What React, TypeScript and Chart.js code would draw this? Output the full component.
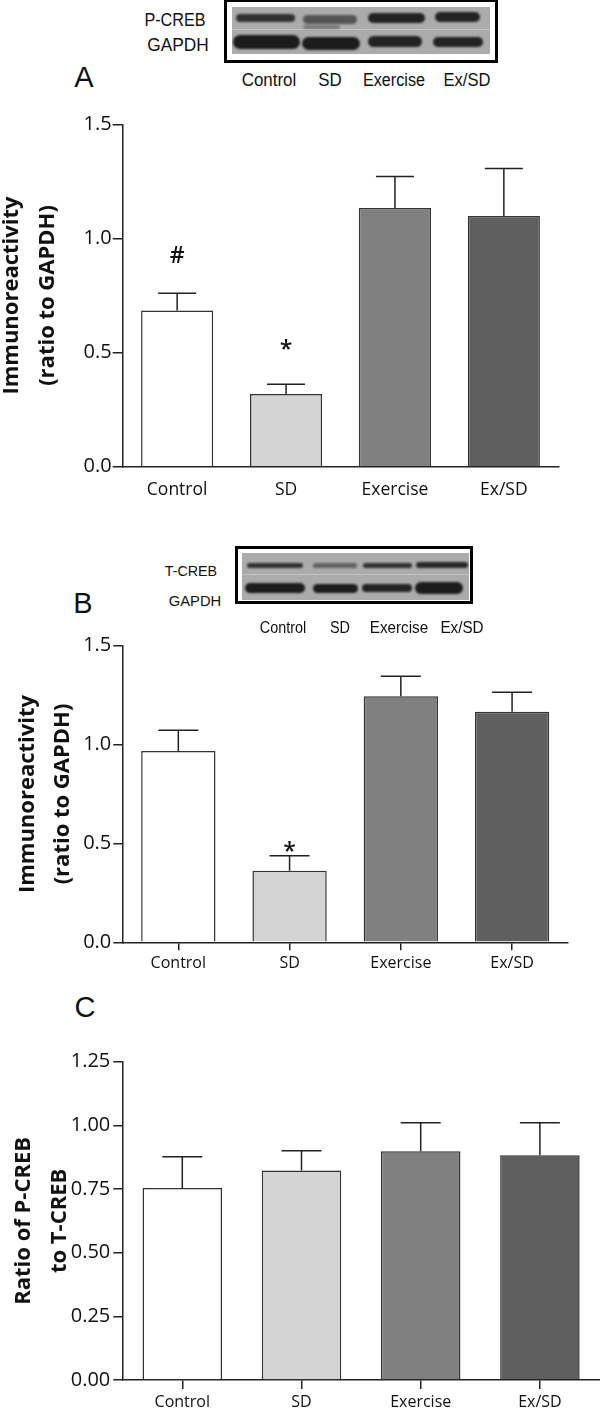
import React, { useEffect, useRef } from 'react';
import { Chart, registerables } from 'chart.js';

Chart.register(...registerables);

// ---------------- data ----------------
const categories = ['Control', 'SD', 'Exercise', 'Ex/SD'];
const barColors = ['#ffffff', '#d4d4d4', '#808080', '#5f5f5f'];

// Panel A: P-CREB / GAPDH
const pcrebMeans = [0.684, 0.319, 1.133, 1.098];
const pcrebSem = [0.076, 0.042, 0.138, 0.208];
const pcrebMarks = ['#', '*', '', ''];
const pcrebMarkAt = [0.929, 0.534, 0, 0];
const pcrebAxis = { max: 1.5, step: 0.5, decimals: 1 };

// Panel B: T-CREB / GAPDH
const tcrebMeans = [0.967, 0.362, 1.244, 1.166];
const tcrebSem = [0.106, 0.076, 0.101, 0.098];
const tcrebMarks = ['', '*', '', ''];
const tcrebMarkAt = [0, 0.482, 0, 0];
const tcrebAxis = { max: 1.5, step: 0.5, decimals: 1 };

// Panel C: P-CREB / T-CREB
const ratioMeans = [0.754, 0.823, 0.898, 0.883];
const ratioSem = [0.123, 0.077, 0.112, 0.127];
const ratioMarks = ['', '', '', ''];
const ratioMarkAt = [0, 0, 0, 0];
const ratioAxis = { max: 1.25, step: 0.25, decimals: 2 };

const titleA = ['Immunoreactivity', '(ratio to GAPDH)'];
const titleC = ['Ratio of P-CREB', 'to T-CREB'];

// ---------------- chart panel ----------------
const INK = '#222222';

function makeErrorPlugin(sem: number[], marks: string[], markAt: number[], capWidth: number) {
  return {
    id: 'errorBarsInline',
    afterDatasetsDraw(chart: any) {
      const meta = chart.getDatasetMeta(0);
      const y = chart.scales.y;
      const ctx = chart.ctx;
      const data = chart.data.datasets[0].data as number[];
      ctx.save();
      ctx.strokeStyle = INK;
      ctx.lineWidth = 1.5;
      meta.data.forEach((bar: any, i: number) => {
        const v = data[i];
        const base = y.getPixelForValue(v);
        const top = y.getPixelForValue(v + sem[i]);
        const x = bar.x;
        ctx.beginPath();
        ctx.moveTo(x, base);
        ctx.lineTo(x, top);
        ctx.moveTo(x - capWidth / 2, top);
        ctx.lineTo(x + capWidth / 2, top);
        ctx.stroke();
        const m = marks[i];
        if (m) {
          ctx.font = '600 23px "Open Sans"';
          ctx.fillStyle = '#111';
          ctx.textAlign = 'center';
          ctx.textBaseline = 'alphabetic';
          const mt = ctx.measureText(m);
          const cy = y.getPixelForValue(markAt[i]);
          ctx.fillText(m, x, cy + (mt.actualBoundingBoxAscent - mt.actualBoundingBoxDescent) / 2);
        }
      });
      ctx.restore();
    },
  };
}

type PanelProps = {
  top: number;
  height: number;
  means: number[];
  sem: number[];
  marks: string[];
  markAt: number[];
  axis: { max: number; step: number; decimals: number };
  title: string[];
  titlePad: number;
  axisLeft: number;
  chartTop: number;
  chartBottom: number;
  chartRight: number;
  barFrac: number;
  capWidth: number;
  xTickLen: number;
  xLabelPad: number;
  xFont: number;
  yTickLen: number;
  yLabelPad: number;
};

function BarPanel(p: PanelProps) {
  const ref = useRef<HTMLCanvasElement | null>(null);
  useEffect(() => {
    if (!ref.current) return;
    const chart = new Chart(ref.current, {
      type: 'bar',
      data: {
        labels: categories,
        datasets: [
          {
            data: p.means,
            backgroundColor: barColors,
            borderColor: '#333333',
            borderWidth: 1.5,
            categoryPercentage: 1,
            barPercentage: p.barFrac,
          },
        ],
      },
      options: {
        animation: false,
        responsive: false,
        maintainAspectRatio: false,
        events: [],
        layout: {
          padding: {
            left: 0,
            top: p.chartTop - p.top,
            right: 600 - p.chartRight,
            bottom: 0,
          },
        },
        plugins: { legend: { display: false }, tooltip: { enabled: false } },
        scales: {
          x: {
            offset: true,
            afterFit: (s: any) => {
              s.height = p.top + p.height - p.chartBottom;
            },
            grid: {
              display: true,
              drawOnChartArea: false,
              drawTicks: p.xTickLen > 0,
              tickLength: p.xTickLen,
              offset: false,
              color: INK,
              lineWidth: 1.5,
            },
            border: { display: true, color: INK, width: 1.5 },
            ticks: {
              color: '#111',
              padding: p.xLabelPad,
              font: { family: 'Open Sans', size: p.xFont },
              maxRotation: 0,
              autoSkip: false,
            },
          },
          y: {
            min: 0,
            max: p.axis.max,
            afterFit: (s: any) => {
              s.width = p.axisLeft;
            },
            grid: {
              display: true,
              drawOnChartArea: false,
              drawTicks: true,
              tickLength: p.yTickLen,
              color: INK,
              lineWidth: 1.5,
            },
            border: { display: true, color: INK, width: 1.5 },
            ticks: {
              stepSize: p.axis.step,
              color: '#111',
              padding: p.yLabelPad,
              font: { family: 'Open Sans', size: 20 },
              callback: (v: any) => Number(v).toFixed(p.axis.decimals),
            },
            title: {
              display: true,
              text: p.title,
              color: '#111',
              font: { family: 'Open Sans', weight: 'bold', size: 22, lineHeight: 1.61 },
              padding: { top: p.titlePad, bottom: 0 },
            },
          },
        },
      },
      plugins: [makeErrorPlugin(p.sem, p.marks, p.markAt, p.capWidth)],
    } as any);
    return () => chart.destroy();
  }, []);
  return (
    <canvas
      ref={ref}
      width={600}
      height={p.height}
      style={{ position: 'absolute', left: 0, top: p.top, width: 600, height: p.height }}
    />
  );
}

// ---------------- blot drawings ----------------
type Band = { x0: number; x1: number; cy: number; h: number; o: number };

function Blot(props: {
  box: [number, number, number, number];
  inner: [number, number, number, number];
  sepY: number;
  bands: Band[];
}) {
  const [bl, bt, br, bb] = props.box;
  const [il, it, ir, ib] = props.inner;
  return (
    <>
      <div
        style={{
          position: 'absolute',
          left: bl,
          top: bt,
          width: br - bl,
          height: bb - bt,
          border: '3.5px solid #000',
          boxSizing: 'border-box',
          background: '#fff',
        }}
      />
      <div
        style={{
          position: 'absolute',
          left: il,
          top: it,
          width: ir - il,
          height: ib - it,
          background: '#ababab',
          overflow: 'hidden',
        }}
      >
        <div
          style={{
            position: 'absolute',
            left: 0,
            top: props.sepY - it,
            width: ir - il,
            height: 1,
            background: '#c4c4c4',
          }}
        />
        {props.bands.map((b, i) => (
          <div
            key={i}
            style={{
              position: 'absolute',
              left: b.x0 - il,
              top: b.cy - b.h / 2 - it,
              width: b.x1 - b.x0,
              height: b.h,
              background: '#1c1c1c',
              opacity: b.o,
              borderRadius: b.h / 2,
              filter: 'blur(1.2px)',
            }}
          />
        ))}
      </div>
    </>
  );
}

function Txt(props: {
  x: number;
  y: number;
  size: number;
  sx?: number;
  children: React.ReactNode;
}) {
  return (
    <div
      style={{
        position: 'absolute',
        left: props.x,
        top: props.y,
        transform: `translate(-50%, -50%) scaleX(${props.sx ?? 1})`,
        fontFamily: '"Liberation Sans", Arial, sans-serif',
        fontSize: props.size,
        lineHeight: 1,
        whiteSpace: 'nowrap',
        color: '#111',
      }}
    >
      {props.children}
    </div>
  );
}

const bandsA: Band[] = [
  { x0: 236, x1: 295, cy: 18, h: 8, o: 0.85 },
  { x0: 303, x1: 357, cy: 19, h: 9, o: 0.6 },
  { x0: 303, x1: 340, cy: 27, h: 4, o: 0.35 },
  { x0: 368, x1: 425, cy: 18, h: 10, o: 0.95 },
  { x0: 435, x1: 480, cy: 17, h: 10, o: 0.95 },
  { x0: 233, x1: 300, cy: 42, h: 14, o: 1 },
  { x0: 302, x1: 360, cy: 43, h: 13, o: 1 },
  { x0: 368, x1: 422, cy: 41.5, h: 11, o: 0.95 },
  { x0: 433, x1: 483, cy: 42, h: 10, o: 0.95 },
];

const bandsB: Band[] = [
  { x0: 247, x1: 303, cy: 565, h: 5, o: 0.85 },
  { x0: 313, x1: 357, cy: 565, h: 5, o: 0.5 },
  { x0: 363, x1: 412, cy: 565, h: 5, o: 0.85 },
  { x0: 416, x1: 468, cy: 564.5, h: 6, o: 0.9 },
  { x0: 245, x1: 305, cy: 588, h: 10, o: 1 },
  { x0: 313, x1: 358, cy: 588, h: 9, o: 1 },
  { x0: 362, x1: 412, cy: 588, h: 8, o: 0.95 },
  { x0: 415, x1: 463, cy: 588, h: 12, o: 1 },
];

export default function App() {
  return (
    <div
      style={{
        position: 'absolute',
        left: 0,
        top: 0,
        width: 600,
        height: 1411,
        background: '#fff',
        overflow: 'hidden',
      }}
    >
      {/* Panel A */}
      <BarPanel
        top={100}
        height={400}
        means={pcrebMeans}
        sem={pcrebSem}
        marks={pcrebMarks}
        markAt={pcrebMarkAt}
        axis={pcrebAxis}
        title={titleA}
        titlePad={-5.7}
        axisLeft={122.7}
        chartTop={124.3}
        chartBottom={466.7}
        chartRight={558.3}
        barFrac={0.662}
        capWidth={38}
        xTickLen={0}
        xLabelPad={12.8}
        xFont={17.5}
        yTickLen={10}
        yLabelPad={1}
      />
      {/* Panel B */}
      <BarPanel
        top={625}
        height={365}
        means={tcrebMeans}
        sem={tcrebSem}
        marks={tcrebMarks}
        markAt={tcrebMarkAt}
        axis={tcrebAxis}
        title={titleA}
        titlePad={10}
        axisLeft={122.7}
        chartTop={645.7}
        chartBottom={942.3}
        chartRight={567.7}
        barFrac={0.668}
        capWidth={40}
        xTickLen={8}
        xLabelPad={3.4}
        xFont={16}
        yTickLen={9.4}
        yLabelPad={2}
      />
      {/* Panel C */}
      <BarPanel
        top={1035}
        height={376}
        means={ratioMeans}
        sem={ratioSem}
        marks={ratioMarks}
        markAt={ratioMarkAt}
        axis={ratioAxis}
        title={titleC}
        titlePad={6.3}
        axisLeft={122.7}
        chartTop={1061.7}
        chartBottom={1380}
        chartRight={599.5}
        barFrac={0.667}
        capWidth={40}
        xTickLen={9}
        xLabelPad={4.1}
        xFont={16}
        yTickLen={9.4}
        yLabelPad={3}
      />

      {/* Blot A */}
      <Blot box={[224, -1, 498, 63]} inner={[232, 7, 490, 54]} sepY={29} bands={bandsA} />
      <Txt x={175} y={19.5} size={18} sx={0.9}>P-CREB</Txt>
      <Txt x={177.5} y={44.5} size={18} sx={0.96}>GAPDH</Txt>
      <Txt x={269} y={80} size={18} sx={0.94}>Control</Txt>
      <Txt x={330} y={80} size={18} sx={0.94}>SD</Txt>
      <Txt x={394} y={80} size={18} sx={0.9}>Exercise</Txt>
      <Txt x={466.5} y={80} size={18} sx={0.92}>Ex/SD</Txt>
      <Txt x={84} y={77} size={29}>A</Txt>

      {/* Blot B */}
      <Blot box={[235, 546, 472.5, 604]} inner={[242, 552.5, 468.5, 600]} sepY={574} bands={bandsB} />
      <Txt x={190.5} y={569.5} size={15} sx={0.95}>T-CREB</Txt>
      <Txt x={194.5} y={600} size={15} sx={0.98}>GAPDH</Txt>
      <Txt x={282.7} y={627.5} size={16} sx={0.9}>Control</Txt>
      <Txt x={340} y={627.5} size={16} sx={0.9}>SD</Txt>
      <Txt x={398.8} y={627.5} size={16} sx={0.95}>Exercise</Txt>
      <Txt x={461.7} y={627.5} size={16} sx={0.95}>Ex/SD</Txt>
      <Txt x={83} y={603} size={29}>B</Txt>

      {/* Panel C letter */}
      <Txt x={85} y={1006.7} size={29}>C</Txt>
    </div>
  );
}
